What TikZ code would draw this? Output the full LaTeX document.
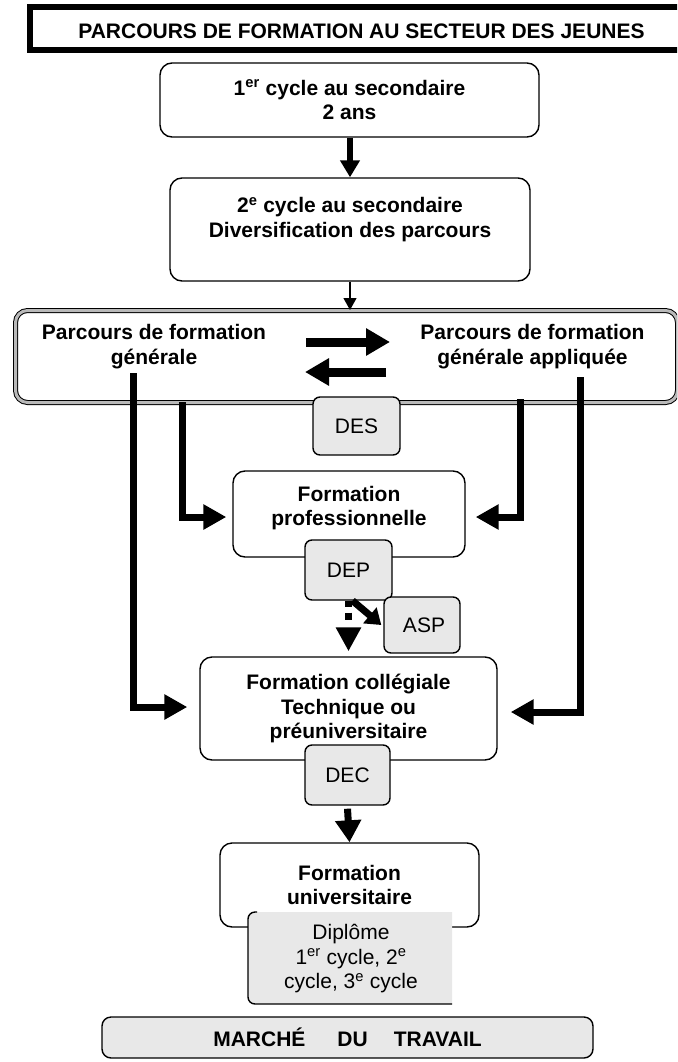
\documentclass[tikz,border=0pt]{standalone}
\usepackage{fontspec}
\setmainfont{Liberation Sans}
\usetikzlibrary{arrows.meta}
\definecolor{boxgray}{HTML}{E8E8E8}
\begin{document}
\begin{tikzpicture}[x=1pt,y=-1pt,
  txt/.style={font=\fontsize{21}{24.5}\selectfont, align=center, inner sep=0pt},
  btxt/.style={font=\fontsize{21}{24.5}\selectfont\bfseries, align=center, inner sep=0pt},
  mainbox/.style={draw, line width=1.4pt, rounded corners=12pt, fill=white, inner sep=0pt, align=center, font=\fontsize{21}{24.5}\selectfont\bfseries},
  smallbox/.style={draw, line width=1.4pt, rounded corners=7pt, fill=boxgray, inner sep=0pt, align=center, font=\fontsize{21}{24.5}\selectfont},
  fat/.style={line width=7pt, -{Triangle[length=23pt,width=24pt]}},
]
\clip (0,0) rectangle (677,1062);
% title
\node[draw, line width=6pt, fill=white, minimum width=670pt, minimum height=43pt] (titlebox) at (365,28.5) {};
\node[btxt] (title) at (361.5,31) {PARCOURS DE FORMATION AU SECTEUR DES JEUNES};
% top boxes
\node[mainbox, minimum width=379pt, minimum height=74pt] (b1) at (349.5,100) {1\textsuperscript{er} cycle au secondaire\\2 ans};
\node[mainbox, minimum width=360pt, minimum height=103pt] (b2) at (350,229.5) {2\textsuperscript{e} cycle au secondaire\\Diversification des parcours\\\mbox{}};
\draw[line width=6pt, -{Triangle[length=17pt,width=19pt]}] (b1.south -| b2.north) -- (b2.north);
% big box
\node[draw, line width=1pt, double=gray!55, double distance=3pt, rounded corners=12pt, fill=white, minimum width=662pt, minimum height=92pt] (gen) at (346.5,356.5) {};
\draw[line width=1.2pt, -{Triangle[length=12pt,width=13pt]}] (b2.south) -- (b2.south |- gen.north);
\node[btxt] (pg) at (154,346.5) {Parcours de formation\\générale};
\node[btxt] (pga) at (532.5,346.5) {Parcours de formation\\générale appliquée};
\coordinate (ra1) at (306,342); \coordinate (ra2) at (390,342);
\coordinate (la1) at (386,372); \coordinate (la2) at (305,372);
\draw[line width=9pt, -{Triangle[length=24pt,width=26pt]}] (ra1) -- (ra2);
\draw[line width=9pt, -{Triangle[length=24pt,width=26pt]}] (la1) -- (la2);
\node[smallbox, minimum width=87pt, minimum height=58pt] (des) at (356.5,426) {DES};
% formation professionnelle
\node[mainbox, minimum width=232pt, minimum height=86pt] (fp) at (349,514) {Formation\\professionnelle\\[-8pt]\mbox{}};
\node[smallbox, minimum width=87pt, minimum height=60pt] (dep) at (348.5,570) {DEP};
\node[smallbox, minimum width=76pt, minimum height=56pt] (asp) at (422,625) {\hspace{4pt}ASP};
% formation collegiale
\node[mainbox, minimum width=297pt, minimum height=103pt] (fc) at (348.5,708.5) {Formation collégiale\\Technique ou\\préuniversitaire};
\node[smallbox, minimum width=85pt, minimum height=60pt] (dec) at (347.5,775) {DEC};
% formation universitaire
\node[mainbox, minimum width=259pt, minimum height=84pt] (fu) at (349.5,885) {Formation\\universitaire};
\coordinate (dipNW) at (248,912);
\coordinate (dipSE) at (452,1004);
\fill[boxgray] (dipSE) -- (dipSE |- dipNW) -- ([xshift=7pt]dipNW) arc[start angle=90, end angle=180, radius=7pt]
  -- ([yshift=7pt]dipNW |- dipSE) arc[start angle=180, end angle=270, radius=7pt] -- cycle;
\node[txt] (dip) at (351,959) {Diplôme\\1\textsuperscript{er} cycle, 2\textsuperscript{e}\\cycle, 3\textsuperscript{e} cycle};
\draw[line width=1.4pt] ([xshift=9pt]dipNW) -- ([xshift=7pt]dipNW) arc[start angle=90, end angle=180, radius=7pt]
  -- ([yshift=7pt]dipNW |- dipSE) arc[start angle=180, end angle=270, radius=7pt] -- (dipSE);
% marche du travail
\node[smallbox, rounded corners=9pt, minimum width=491pt, minimum height=41pt, font=\fontsize{21}{24.5}\selectfont\bfseries] (mt) at (347.5,1037.5) {MARCHÉ\hspace{32pt}DU\hspace{26pt}TRAVAIL};
% connectors
\coordinate (l1s) at (133,373);
\coordinate (l2s) at (182,402);
\coordinate (r1s) at (520,399);
\coordinate (r2s) at (580,377);
\draw[fat] (l1s) |- ([xshift=-12pt,yshift=1.5pt]fc.west);
\draw[fat] (l2s) |- ([xshift=-6pt,yshift=-3pt]fp.west);
\draw[fat] (r1s) |- ([xshift=10pt,yshift=-3pt]fp.east);
\draw[fat] (r2s) |- ([xshift=13pt,yshift=-3.5pt]fc.east);
\draw[line width=7pt, -{Triangle[length=15pt,width=20pt]}] ([xshift=4pt]dep.south) -- ([xshift=-2pt]asp.west);
\draw[line width=7pt, dash pattern=on 6pt off 6pt on 7pt off 40pt, -{Triangle[length=24pt,width=24pt]}] (dep.south) -- ([yshift=5pt]fc.north);
\draw[line width=7pt, -{Triangle[length=22pt,width=25pt]}] ([yshift=-3pt]dec.south) -- (fu.north);
\end{tikzpicture}
\end{document}
